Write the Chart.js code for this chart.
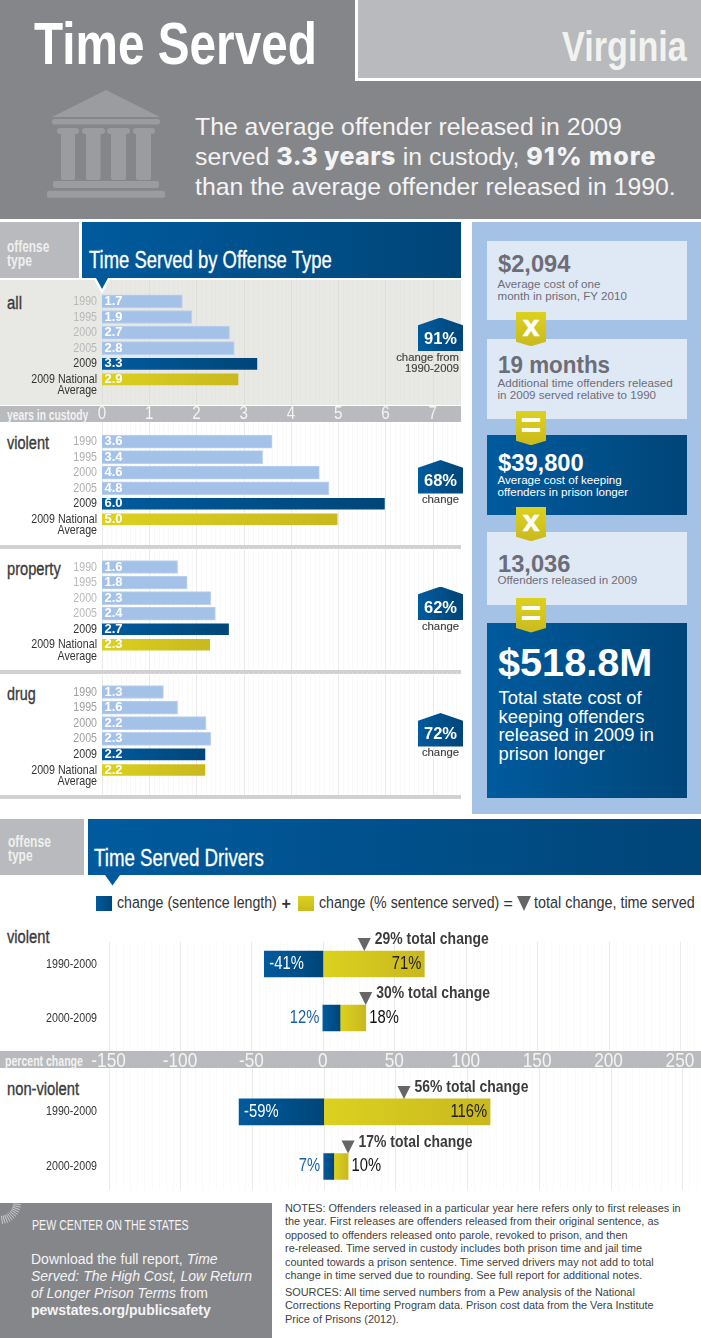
<!DOCTYPE html>
<html><head><meta charset="utf-8">
<script src="https://cdn.jsdelivr.net/npm/chart.js@4/dist/chart.umd.min.js"></script>
<style>
html,body{margin:0;padding:0;background:#fff;width:701px;height:1338px;overflow:hidden}
#page{position:relative;width:701px;height:1338px;overflow:hidden;font-family:"Liberation Sans",Arial,sans-serif}
.b{position:absolute}
.t{position:absolute;white-space:nowrap;transform:translateY(-50%);line-height:1}
canvas{position:absolute;display:block}
</style></head><body><div id="page"></div>
<script>
// ---------- data ----------
const yearCategories=['1990','1995','2000','2005','2009',['','2009 National','Average']];
const yearsAll=[1.7,1.9,2.7,2.8,3.3,2.9];
const yearsViolent=[3.6,3.4,4.6,4.8,6.0,5.0];
const yearsProperty=[1.6,1.8,2.3,2.4,2.7,2.3];
const yearsDrug=[1.3,1.6,2.2,2.3,2.2,2.2];
const yearTicks=[0,1,2,3,4,5,6,7];
const driverCategories=['1990-2000','2000-2009'];
const violentSentence=[-41,12];
const violentServed=[71,18];
const violentTotal=[29,30];
const nonViolentSentence=[-59,7];
const nonViolentServed=[116,10];
const nonViolentTotal=[56,17];
const percentTicks=[-150,-100,-50,0,50,100,150,200,250];

// ---------- static layout ----------
const page=document.getElementById('page');
const BLUE='linear-gradient(90deg,#005b9e,#004578)';
const YEL='linear-gradient(180deg,#dcd11f,#c9ba1e)';
function box(x,y,w,h,bg,extra){const d=document.createElement('div');d.className='b';d.style.cssText=`left:${x}px;top:${y}px;width:${w}px;height:${h}px;background:${bg};${extra||''}`;page.appendChild(d);return d;}
function txt(x,y,html,css){const d=document.createElement('div');d.className='t';d.style.cssText=`left:${x}px;top:${y}px;${css||''}`;d.innerHTML=html;page.appendChild(d);return d;}
// text squeezed (or stretched) horizontally to a measured width, since no condensed face is installed
function fit(x,y,html,css,w){const d=txt(x,y,html,css);const k=w/d.offsetWidth;d.style.transformOrigin='left center';d.style.transform=`translateY(-50%) scaleX(${k})`;return d;}
function rtxt(r,y,html,css){const d=txt(0,y,html,css);d.style.left='auto';d.style.right=(701-r)+'px';return d;}

// header
box(0,0,701,219,'#85868a');
box(354.5,0,346.5,80.5,'#fff');
box(357.5,0,343.5,77.5,'#b9babd');
fit(33.5,44,'Time Served','font-size:58.5px;font-weight:700;color:#fff',283);
fit(562,47,'Virginia','font-size:42px;font-weight:700;color:#f2f3f0',124.6);
const temple=document.createElement('div');temple.className='b';temple.style.cssText='left:0;top:0;width:200px;height:219px';
temple.innerHTML=`<svg width="200" height="219" fill="#9b9c9f"><polygon points="106,90 160,117 52,117"/><rect x="52" y="119" width="108" height="5.5" rx="2.5"/>
<rect x="57" y="128" width="22" height="6" rx="3"/><rect x="82" y="128" width="23" height="6" rx="3"/><rect x="107" y="128" width="23" height="6" rx="3"/><rect x="133" y="128" width="22" height="6" rx="3"/>
<rect x="61" y="132" width="14" height="48" rx="2"/><rect x="86" y="132" width="14.5" height="48" rx="2"/><rect x="111" y="132" width="15" height="48" rx="2"/><rect x="136" y="132" width="15" height="48" rx="2"/>
<rect x="53" y="181" width="106" height="7" rx="2"/><rect x="47" y="190.7" width="118" height="7" rx="2"/></svg>`;
page.appendChild(temple);
const hl='font-size:24.8px;color:#f4f4f4';
const hb='font-family:Inter;font-weight:800;font-size:25px;';
txt(195,126.5,'The average offender released in 2009',hl);
txt(195,156.5,`served <span style="${hb}letter-spacing:.4px">3.3 years</span> in custody, <span style="${hb}letter-spacing:1px">91% more</span>`,hl);
txt(195,186.5,'than the average offender released in 1990.',hl);

// time served section
box(0,222,79,56,'#b9babd');
const ot='font-size:17px;font-weight:700;color:#eff0ee';
fit(6.5,246,'offense',ot,42);
fit(6.5,260,'type',ot,25);
box(82,222,379,56,BLUE);
fit(89,260,'Time Served by Offense Type','font-size:23px;color:#fff;-webkit-text-stroke:.3px #fff',243);
box(0,280,461,124.5,'#e8e9e5');
box(0,405.5,461,16,'#b9babd');
box(0,545,461,3.5,'#d0d1d2');
box(0,670,461,3.5,'#d0d1d2');
box(0,795,461,3.5,'#d0d1d2');
fit(7,413.5,'years in custody','font-size:15px;font-weight:700;color:#f2f2f2',81);

// right column
box(472,222,229,592,'#a4c2e6');
const gray='#6d6d78';
function costBox(y,h,bg,big,bigCol,bigW,lines,ly,lineCol,bigY){
  box(487,y,200,h,bg);
  fit(497.5,bigY,big,`font-size:24px;font-weight:700;color:${bigCol}`,bigW);
  lines.forEach((l,i)=>txt(497.5,ly+i*12,l,`font-size:11.6px;color:${lineCol}`));
}
costBox(240.5,79.5,'#dfe8f5','$2,094',gray,72,['Average cost of one','month in prison, FY 2010'],284,gray,264);
costBox(339,80,'#dfe8f5','19 months',gray,112,['Additional time offenders released','in 2009 served relative to 1990'],383,gray,365);
costBox(435,80,BLUE,'$39,800','#fff',86,['Average cost of keeping','offenders in prison longer'],480,'#fff',463);
costBox(532,73,'#dfe8f5','13,036',gray,72,['Offenders released in 2009'],580,gray,563.5);
box(487,623,200,174.5,BLUE);
fit(498,663,'$518.8M','font-size:38.5px;font-weight:700;color:#fff',154.5);
['Total state cost of','keeping offenders','released in 2009 in','prison longer'].forEach((l,i)=>txt(498.5,698+i*18.5,l,'font-size:18.4px;color:#fff'));
function tab(y,sym){
  box(516,y,30,34.5,YEL,'clip-path:polygon(0 0,100% 0,100% 87%,50% 100%,0 87%)');
  if(sym==='x')txt(516,y+14.3,sym,'width:30px;text-align:center;font-size:30px;font-weight:700;color:#fff;-webkit-text-stroke:.6px #fff');
  else txt(516,y+15.5,sym,'width:30px;text-align:center;font-size:36px;font-weight:700;color:#fff');
}
tab(311.7,'x');tab(410.7,'=');tab(506.7,'x');tab(598,'=');

// category names
const catN='font-size:18px;color:#3a3a3c;-webkit-text-stroke:.35px #3a3a3c';
fit(7,303,'all',catN,15);fit(7,443,'violent',catN,42);fit(7,569,'property',catN,53.7);fit(7,694,'drug',catN,28.7);

// drivers section
box(0,819,84,56,'#b9babd');
fit(8,841,'offense',ot,42.5);
fit(8,854.5,'type',ot,24.6);
box(87.6,819,613.4,56,BLUE);
fit(94,858,'Time Served Drivers','font-size:23px;color:#fff;-webkit-text-stroke:.3px #fff',170);
box(105,875,15,10.5,'#005a9a','clip-path:polygon(0 0,100% 0,50% 100%)');
box(96,895.5,16,15.5,BLUE);
const lg='font-size:17.4px;color:#333';
fit(116.5,903,'change (sentence length)',lg,159.6);
txt(281.5,903.5,'+','font-size:16px;font-weight:700;color:#333');
box(298,895.5,16,15.5,YEL);
fit(319,903,'change (% sentence served)',lg,180);
txt(503.5,903.5,'=','font-size:16px;color:#333');
box(517,896,14,15,'#666','clip-path:polygon(0 0,100% 0,50% 100%)');
fit(534,903,'total change, time served',lg,160.5);
box(0,1050.7,701,17,'#b9babd');
fit(5.3,1060,'percent change','font-size:15px;font-weight:700;color:#f2f2f2',78);
fit(7,937,'violent',catN,42.5);
fit(7,1088.5,'non-violent',catN,72);

// footer
box(0,1203,272,135,'#85868a');
const sun=document.createElement('div');sun.className='b';sun.style.cssText='left:0;top:1203px;width:30px;height:30px;overflow:hidden';
let rays='';for(let a=4;a<=90;a+=7.2){const r=a*Math.PI/180;rays+=`<line x1="${13*Math.cos(r)}" y1="${13*Math.sin(r)}" x2="${(a%14.4<1?25:21)*Math.cos(r)}" y2="${(a%14.4<1?25:21)*Math.sin(r)}"/>`;}
sun.innerHTML=`<svg width="30" height="30" stroke="#e8e8e8" stroke-width=".7">${rays}</svg>`;page.appendChild(sun);
fit(32,1225,'PEW CENTER ON THE STATES','font-size:14.3px;color:#f4f4f4',157);
const dl='font-size:14px;color:#f4f4f4';
txt(31,1259,'Download the full report, <i>Time</i>',dl);
txt(31,1276,'<i>Served: The High Cost, Low Return</i>',dl);
txt(31,1293,'<i>of Longer Prison Terms</i> from',dl);
txt(31,1310,'<b>pewstates.org/publicsafety</b>',dl);
const nt='font-size:10.9px;color:#3f3f3f';
['NOTES: Offenders released in a particular year here refers only to first releases in',
'the year. First releases are offenders released from their original sentence, as',
'opposed to offenders released onto parole, revoked to prison, and then',
're-released. Time served in custody includes both prison time and jail time',
'counted towards a prison sentence. Time served drivers may not add to total',
'change in time served due to rounding. See full report for additional notes.'].forEach((l,i)=>txt(285,1207.5+i*13.5,l,nt));
['SOURCES: All time served numbers from a Pew analysis of the National',
'Corrections Reporting Program data. Prison cost data from the Vera Institute',
'Price of Prisons (2012).'].forEach((l,i)=>txt(285,1291.7+i*13.6,l,nt));

// ---------- charts ----------
function addCanvas(x,y,w,h){const c=document.createElement('canvas');c.width=w;c.height=h;c.style.cssText=`left:${x}px;top:${y}px;width:${w}px;height:${h}px`;page.appendChild(c);return c;}
const SANS='"Liberation Sans",sans-serif';
// all chart text goes through fillText: squeeze it the way a condensed face would look
const condense={id:'condense',beforeDraw(ch){
  const c=ch.ctx;if(c.rawFill)return;
  const raw=c.fillText.bind(c);c.rawFill=raw;
  c.fillText=(s,x,y)=>{const w=c.measureText(s).width;if(w>0)raw(s,x,y,w*0.82);};
}};
function gridPlugin(top,bottom,minorStep,majorStep,minor,major){
  return {id:'fullGrid',beforeDatasetsDraw(ch){
    const x=ch.scales.x,c=ch.ctx;c.save();c.lineWidth=1;
    const n=Math.round((x.max-x.min)/minorStep);
    for(let i=0;i<=n;i++){
      const v=x.min+i*minorStep;
      const isMajor=Math.abs(v/majorStep-Math.round(v/majorStep))<1e-6;
      const px=Math.round(x.getPixelForValue(v))+.5;
      c.strokeStyle=isMajor?major:minor;
      c.beginPath();c.moveTo(px,top);c.lineTo(px,bottom);c.stroke();
    }
    c.restore();
  }};
}
function hGrad(ch,a,b,c0,c1){
  const x=ch.scales.x;if(!x)return c0;
  const p=x.getPixelForValue(a),q=x.getPixelForValue(b);
  if(!isFinite(p)||!isFinite(q))return c0;
  const g=ch.ctx.createLinearGradient(p,0,q,0);
  g.addColorStop(0,c0);g.addColorStop(1,c1);return g;
}
function yearChart(values,rowTop,rowStep,gridTop,gridBottom,bottom,showAxis,tickGray,minor,major){
  const top=Math.floor(rowTop)-30,height=bottom-top;
  const canvas=addCanvas(0,top,461,height);
  const rowsH=rowStep*6;
  new Chart(canvas,{type:'bar',
    data:{labels:yearCategories,datasets:[{data:values,barThickness:13,borderWidth:1,
      borderColor:c=>c.dataIndex<4?'#bcd1ec':'rgba(0,0,0,0)',
      backgroundColor(ctx){
        const i=ctx.dataIndex,v=values[i];
        if(i===4)return hGrad(ctx.chart,0,v,'#005b9e','#004578');
        if(i===5)return hGrad(ctx.chart,0,v,'#dcd11f','#c9b81f');
        return '#a4c2e8';
      }}]},
    options:{indexAxis:'y',responsive:false,animation:false,devicePixelRatio:1,
      layout:{padding:{top:rowTop-top,left:0,right:0,bottom:0}},
      plugins:{legend:{display:false},tooltip:{enabled:false}},
      scales:{
        x:{min:0,max:7.6,position:'bottom',grid:{display:false,drawTicks:false},border:{display:false},
          afterBuildTicks(s){s.ticks=yearTicks.map(v=>({value:v}));},
          afterFit(s){s.height=height-(rowTop-top)-rowsH;},
          ticks:{display:showAxis,autoSkip:false,maxRotation:0,color:'#f4f4f4',padding:15.7,
            font:{family:SANS,size:18.5},callback:v=>String(v)}},
        y:{grid:{display:false,drawTicks:false},border:{display:false},
          afterFit(s){s.width=102;},
          ticks:{padding:5,autoSkip:false,font:{family:SANS,size:13,lineHeight:.86},
            color:c=>c.index>=4?'#333':tickGray}}
      }},
    plugins:[condense,gridPlugin(gridTop-top,gridBottom-top,0.1,1,minor,major),{id:'valueLabels',afterDatasetsDraw(ch){
      const c=ch.ctx,y=ch.scales.y,x=ch.scales.x;c.save();
      c.font='bold 13px "Liberation Sans"';c.fillStyle='#fff';c.textBaseline='middle';c.textAlign='left';
      values.forEach((v,i)=>c.rawFill(v.toFixed(1),x.getPixelForValue(0)+2.5,y.getPixelForTick(i)));
      c.restore();
    }}]
  });
}
const GRID_MIN_W='#f9f9f9',GRID_MAJ_W='#ebebeb';
yearChart(yearsAll,293.6,15.6,280,404.5,422,true,'#b8b9ba','#e5e6e2','#dedfdb');
yearChart(yearsViolent,433.9,15.52,422,545,575,false,'#adaeaf',GRID_MIN_W,GRID_MAJ_W);
yearChart(yearsProperty,559.2,15.56,548.5,670,700,false,'#b8b9ba',GRID_MIN_W,GRID_MAJ_W);
yearChart(yearsDrug,684.2,15.6,673.5,795,825,false,'#9d9e9f',GRID_MIN_W,GRID_MAJ_W);

function driverChart(sentence,served,total,rowTop,rowStep,gridTop,gridBottom,bottom,showAxis){
  const top=Math.floor(rowTop)-30,height=bottom-top;
  const canvas=addCanvas(0,top,701,height);
  new Chart(canvas,{type:'bar',
    data:{labels:driverCategories,datasets:[
      {data:sentence,stack:'s',barThickness:26,borderWidth:0,
        backgroundColor(ctx){const v=sentence[ctx.dataIndex];return hGrad(ctx.chart,Math.min(0,v),Math.max(0,v),'#005b9e','#004578');}},
      {data:served,stack:'s',barThickness:26,borderWidth:0,
        backgroundColor(ctx){const i=ctx.dataIndex,b=Math.max(0,sentence[i]);return hGrad(ctx.chart,b,b+served[i],'#dcd11f','#c9b81f');}}
    ]},
    options:{indexAxis:'y',responsive:false,animation:false,devicePixelRatio:1,
      layout:{padding:{top:rowTop-top,left:0,right:0,bottom:0}},
      plugins:{legend:{display:false},tooltip:{enabled:false}},
      scales:{
        x:{stacked:true,min:-150,max:263.1,position:'bottom',grid:{display:false,drawTicks:false},border:{display:false},
          afterBuildTicks(s){s.ticks=percentTicks.map(v=>({value:v}));},
          afterFit(s){s.height=height-(rowTop-top)-rowStep*2;},
          ticks:{display:showAxis,autoSkip:false,maxRotation:0,color:'#f4f4f4',padding:3.5,
            font:{family:SANS,size:21},callback:v=>String(v)}},
        y:{stacked:true,grid:{display:false,drawTicks:false},border:{display:false},
          afterFit(s){s.width=108.6;},
          ticks:{padding:11.6,font:{family:SANS,size:13},color:'#333'}}
      }},
    plugins:[condense,gridPlugin(gridTop-top,gridBottom-top,5,50,'#fafafa','#ebebeb'),{id:'driverLabels',afterDatasetsDraw(ch){
      const c=ch.ctx,x=ch.scales.x,y=ch.scales.y;c.save();
      c.textBaseline='middle';
      driverCategories.forEach((_,i)=>{
        const yc=y.getPixelForTick(i),x0=x.getPixelForValue(0),s=sentence[i],v=served[i];
        const xEnd=x.getPixelForValue(Math.max(0,s)+v);
        c.font='18px '+SANS;
        if(s<0){c.fillStyle='#fff';c.textAlign='left';c.fillText(s+'%',x.getPixelForValue(s)+5,yc);}
        else{c.fillStyle='#1a62a3';c.textAlign='right';c.fillText(s+'%',x0-3.5,yc);}
        if(s<0){c.fillStyle='#222';c.textAlign='right';c.fillText(v+'%',xEnd-3,yc);}
        else{c.fillStyle='#111';c.textAlign='left';c.fillText(v+'%',xEnd+3.5,yc);}
        const tx=x.getPixelForValue(total[i]),ty=yc-13;
        c.fillStyle='#666';c.beginPath();c.moveTo(tx-6.5,ty-13);c.lineTo(tx+6.5,ty-13);c.lineTo(tx,ty);c.closePath();c.fill();
        c.fillStyle='#3c3c3c';c.textAlign='left';c.font='bold 17px '+SANS;
        c.fillText(total[i]+'% total change',tx+10.5,yc-24.3);
      });
      c.restore();
    }}]
  });
}
driverChart(violentSentence,violentServed,violentTotal,937,54,942,1050.5,1068,true);
driverChart(nonViolentSentence,nonViolentServed,nonViolentTotal,1084.6,54.6,1068,1190,1230,false);

// blue change badges (drawn above the charts)
function badge(top,pct,lines){
  const h=33.5;
  box(418,top,45,h,BLUE,'clip-path:polygon(0 23%,50% 0,100% 23%,100% 100%,0 100%)');
  txt(418,top+20,pct,'width:45px;text-align:center;font-size:16.5px;font-weight:700;color:#fff');
  lines.forEach((l,i)=>rtxt(459,top+h+6.5+i*11,l,'font-size:11.3px;color:#3f3f3f;-webkit-text-stroke:.15px #3f3f3f'));
}
badge(317.5,'91%',['change from','1990-2009']);
badge(460,'68%',['change']);
badge(586.5,'62%',['change']);
badge(713,'72%',['change']);
// pointer under the first header
box(93.5,278,17,16,'#fff','clip-path:polygon(0 0,100% 0,50% 100%)');
box(96,278,12,11,'#005a9a','clip-path:polygon(0 0,100% 0,50% 100%)');
</script></body></html>
